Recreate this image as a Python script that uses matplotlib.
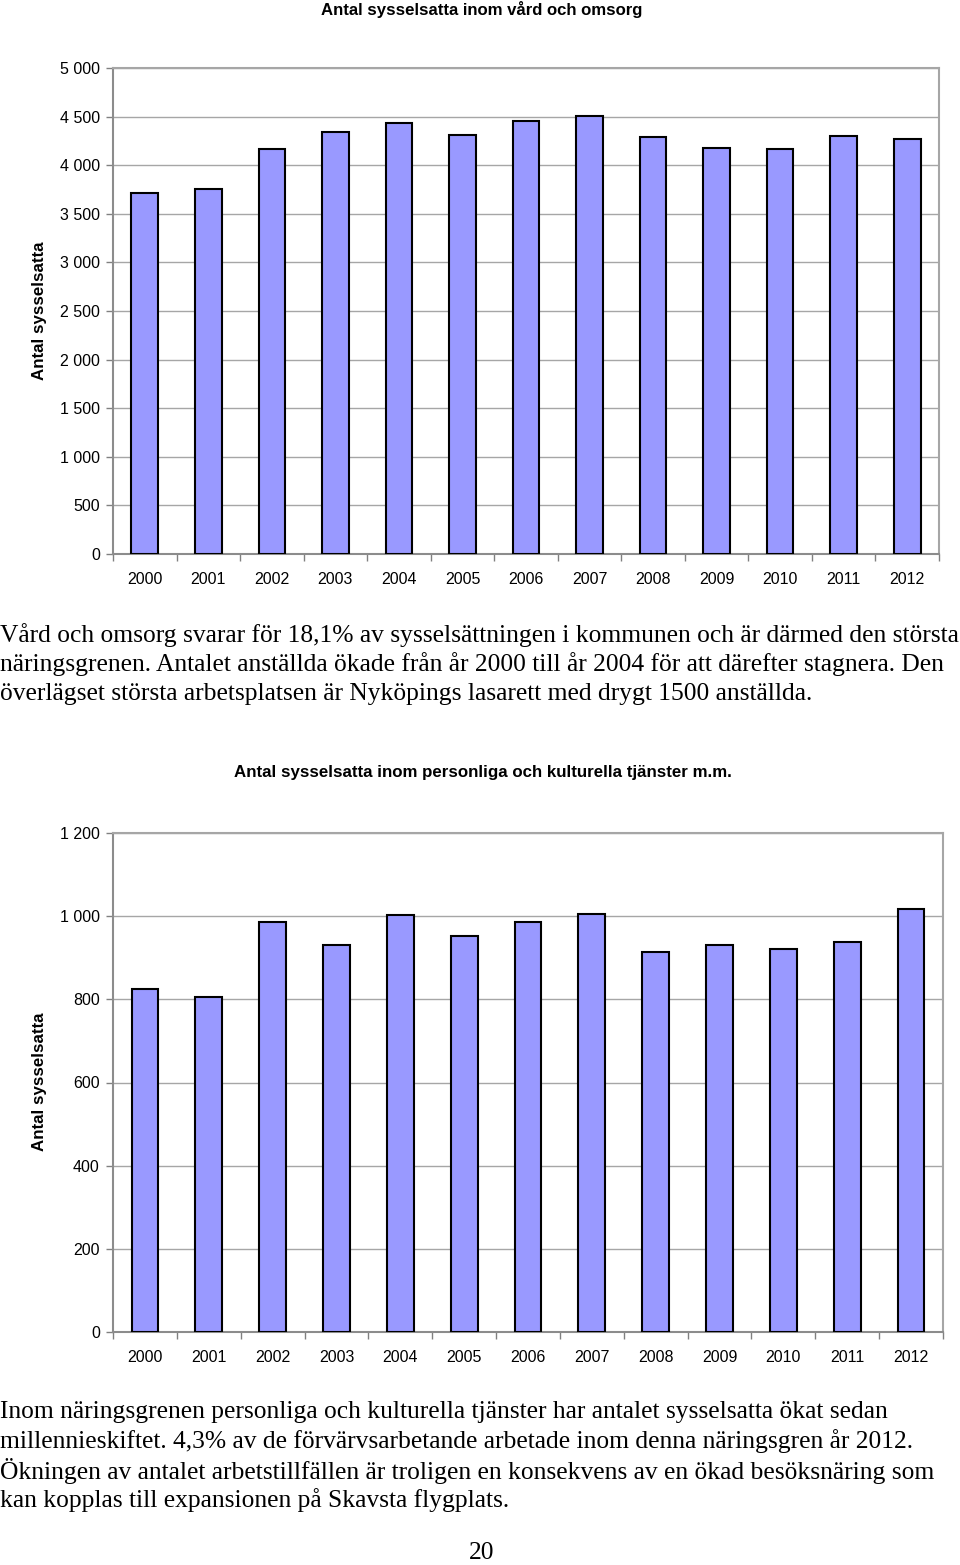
import matplotlib
matplotlib.use('Agg')
import matplotlib.pyplot as plt
from matplotlib.ticker import FixedLocator, FuncFormatter
import numpy as np

years = ['2000', '2001', '2002', '2003', '2004', '2005', '2006',
         '2007', '2008', '2009', '2010', '2011', '2012']
vard = [3715, 3755, 4170, 4345, 4430, 4310, 4455,
        4510, 4295, 4180, 4170, 4300, 4265]
kultur = [824, 805, 986, 930, 1004, 953, 985,
          1006, 914, 930, 922, 937, 1018]

title1 = 'Antal sysselsatta inom vård och omsorg'
title2 = 'Antal sysselsatta inom personliga och kulturella tjänster m.m.'
ylab = 'Antal sysselsatta'
text1 = ['Vård och omsorg svarar för 18,1% av sysselsättningen i kommunen och är därmed den största',
         'näringsgrenen. Antalet anställda ökade från år 2000 till år 2004 för att därefter stagnera. Den',
         'överlägset största arbetsplatsen är Nyköpings lasarett med drygt 1500 anställda.']
text2 = ['Inom näringsgrenen personliga och kulturella tjänster har antalet sysselsatta ökat sedan',
         'millennieskiftet. 4,3% av de förvärvsarbetande arbetade inom denna näringsgren år 2012.',
         'Ökningen av antalet arbetstillfällen är troligen en konsekvens av en ökad besöksnäring som',
         'kan kopplas till expansionen på Skavsta flygplats.']
page = '20'

W, H = 960, 1565
fig = plt.figure(figsize=(W / 100, H / 100), dpi=100)
sans = 'Liberation Sans'
serif = 'Liberation Serif'


def fy(py):
    return 1 - py / H


def bar_chart(rect, values, ymax, step):
    ax = fig.add_axes(rect)
    x = np.arange(len(years))
    ax.bar(x, values, width=0.42, color='#9999FF', edgecolor='black',
           linewidth=1.5, zorder=3)
    ax.set_xlim(-0.5, len(years) - 0.5)
    ax.set_ylim(0, ymax)
    ax.set_yticks(np.arange(0, ymax + 1, step))
    ax.yaxis.set_major_formatter(FuncFormatter(
        lambda v, p: f'{int(v):,}'.replace(',', ' ')))
    ax.grid(axis='y', color='#A6A6A6', linewidth=1.0, zorder=0)
    ax.set_xticks(x)
    ax.set_xticklabels(years, fontfamily=sans, fontsize=11.5)
    ax.xaxis.set_minor_locator(FixedLocator(np.arange(-0.5, len(years), 1)))
    ax.tick_params(axis='x', which='major', length=0, pad=13)
    ax.tick_params(axis='x', which='minor', length=5, color='#808080',
                   width=1)
    ax.tick_params(axis='y', length=5, color='#808080', width=1, pad=4.5)
    for lab in ax.get_yticklabels():
        lab.set_fontfamily(sans)
        lab.set_fontsize(11.5)
    for s in ax.spines.values():
        s.set_color('#8C8C8C')
        s.set_linewidth(1.5)
    ax.spines['top'].set_color('#A6A6A6')
    ax.spines['right'].set_color('#A6A6A6')
    return ax


bar_chart([113 / W, fy(554), 826 / W, (554 - 68) / H], vard, 5000, 500)
bar_chart([113 / W, fy(1332), 830 / W, (1332 - 833) / H], kultur, 1200, 200)

fig.text(482 / W, fy(9), title1, ha='center', va='center',
         fontfamily=sans, fontweight='bold', fontsize=12.1)
fig.text(483 / W, fy(773), title2, ha='center', va='center',
         fontfamily=sans, fontweight='bold', fontsize=12.2)
fig.text(40 / W, fy(311), ylab, ha='center', va='center', rotation=90,
         fontfamily=sans, fontweight='bold', fontsize=12.2)
fig.text(40 / W, fy(1082), ylab, ha='center', va='center', rotation=90,
         fontfamily=sans, fontweight='bold', fontsize=12.2)

for i, line in enumerate(text1):
    fig.text(0.0, fy(635 + i * 29.5), line, ha='left', va='center',
             fontfamily=serif, fontsize=18.4)
for i, line in enumerate(text2):
    fig.text(0.0, fy(1412 + i * 29.3), line, ha='left', va='center',
             fontfamily=serif, fontsize=18.4)
fig.text(482 / W, fy(1553), page, ha='center', va='center',
         fontfamily=serif, fontsize=18.4)

fig.savefig('out.png', dpi=100)
